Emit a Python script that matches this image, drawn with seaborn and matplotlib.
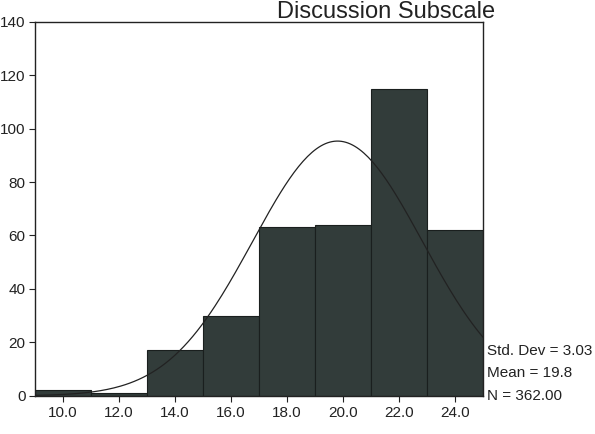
import numpy as np
import pandas as pd
import seaborn as sns
import matplotlib
matplotlib.use("Agg")
import matplotlib.pyplot as plt

# histogram
bin_centers = [10, 12, 14, 16, 18, 20, 22, 24]
counts = [2, 1, 17, 30, 63, 64, 115, 62]
bin_edges = [9, 11, 13, 15, 17, 19, 21, 23, 25]
x_ticks = [10, 12, 14, 16, 18, 20, 22, 24]
y_ticks = [0, 20, 40, 60, 80, 100, 120, 140]

std_dev = 3.03
mean = 19.8
n = 362.00

sns.set_theme(style="white")
plt.rcParams["font.family"] = ["Liberation Sans", "DejaVu Sans"]

df = pd.DataFrame({"score": bin_centers, "count": counts})

fig = plt.figure(figsize=(5.95, 4.34), dpi=100)
ax = fig.add_axes([0.059, 0.088, 0.753, 0.862])

sns.histplot(data=df, x="score", weights="count", bins=bin_edges,
             color="#323c3a", edgecolor="#1a1f1e", linewidth=0.8,
             alpha=1, ax=ax)

# normal curve from the printed stats
xs = np.linspace(9, 25, 200)
ys = n * 2 / (std_dev * np.sqrt(2 * np.pi)) * np.exp(-0.5 * ((xs - mean) / std_dev) ** 2)
sns.lineplot(x=xs, y=ys, color="#222222", linewidth=0.9, ax=ax)

ax.set_xlim(9, 25)
ax.set_ylim(0, 140)
ax.set_xticks(x_ticks)
ax.set_xticklabels([f"{t:.1f}" for t in x_ticks], fontsize=11)
ax.set_yticks(y_ticks)
ax.set_yticklabels([str(t) for t in y_ticks], fontsize=11)
ax.tick_params(axis="both", direction="out", length=4, width=0.8,
               colors="#222222", pad=3, bottom=True, left=True)
ax.set_xlabel("")
ax.set_ylabel("")
for s in ax.spines.values():
    s.set_color("#222222")
    s.set_linewidth(1.0)

fig.text(0.832, 0.958, "Discussion Subscale", ha="right", va="baseline",
         fontsize=17, color="#222222")

fig.text(0.818, 0.183, f"Std. Dev = {std_dev:.2f}", fontsize=11, color="#222222")
fig.text(0.818, 0.131, f"Mean = {mean:.1f}", fontsize=11, color="#222222")
fig.text(0.818, 0.079, f"N = {n:.2f}", fontsize=11, color="#222222")

fig.savefig("out.png", dpi=100)
